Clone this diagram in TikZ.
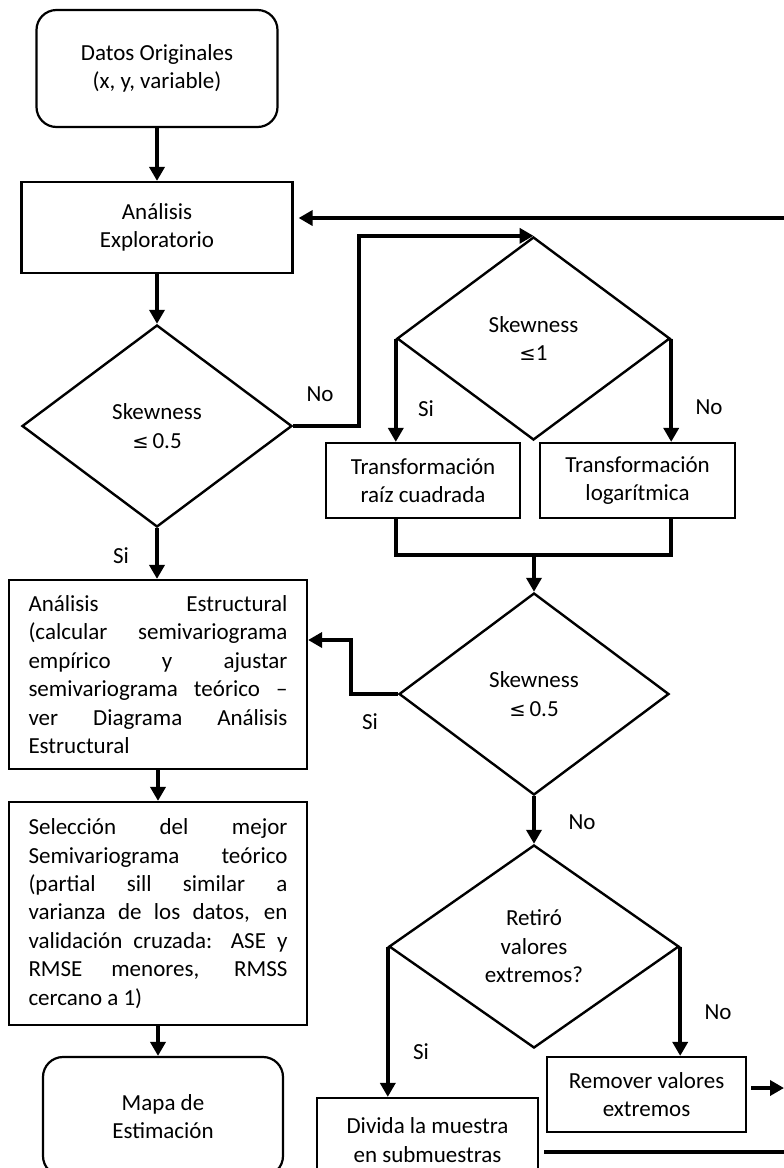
\documentclass[tikz,border=0pt]{standalone}
\usepackage{fontspec}
\setmainfont{Carlito}
\newfontfamily\symfont{DejaVu Sans}[Scale=0.85]
\usetikzlibrary{arrows.meta,shapes.geometric,calc}
\newcommand\jl[1]{\makebox[259pt][s]{#1}}
\begin{document}
\begin{tikzpicture}[x=1pt,y=-1pt,
  every node/.style={font=\fontsize{23}{28.4}\selectfont},
  box/.style={draw, line width=2.2pt, inner sep=0pt, align=center},
  rbox/.style={box, rounded corners=20pt},
  dec/.style={draw, diamond, line width=2.4pt, inner sep=0pt, align=center},
  conn/.style={line width=4.5pt},
  arr/.style={conn, -{Triangle[length=14pt,width=15pt]}},
  lab/.style={inner sep=0pt}]
\useasboundingbox (0,0) rectangle (784,1168);
\fill[white] (0,0) rectangle (784,1168);
\clip (0,0) rectangle (784,1168);

% nodes
\node[rbox, minimum width=241pt, minimum height=117pt] (datos) at (157,68.5) {Datos Originales\\(x, y, variable)};
\node[box, minimum width=271pt, minimum height=91pt] (explo) at (157,227.5) {Análisis\\Exploratorio};
\node[dec, minimum width=270pt, minimum height=202pt] (d1) at (157,426) {Skewness\\{\symfont ≤}\,0.5};
\node[dec, minimum width=273pt, minimum height=203pt] (d2) at (533.5,338.5) {Skewness\\{\symfont ≤}1};
\node[box, minimum width=194pt, minimum height=75pt] (raiz) at (423,480.5) {Transformación\\raíz cuadrada};
\node[box, minimum width=195pt, minimum height=75pt] (log) at (637.5,480.5) {Transformación\\logarítmica};
\node[dec, minimum width=270pt, minimum height=202pt] (d3) at (534,694) {Skewness\\{\symfont ≤}\,0.5};
\node[box, align=left, minimum width=298pt, minimum height=189pt] (estr) at (158,674.5) {%
\jl{Análisis Estructural}\\
\jl{(calcular semivariograma}\\
\jl{empírico y ajustar}\\
\jl{semivariograma teórico –}\\
\jl{ver Diagrama Análisis}\\
Estructural};
\node[box, align=left, minimum width=298pt, minimum height=223pt] (sel) at (158,913.5) {%
\jl{Selección del mejor}\\
\jl{Semivariograma teórico}\\
\jl{(partial sill similar a}\\
\jl{varianza de los datos, en}\\
\jl{validación cruzada: ASE y}\\
\jl{RMSE menores, RMSS}\\
cercano a 1)};
\node[rbox, minimum width=240pt, minimum height=119pt] (mapa) at (163,1116.5) {Mapa de\\Estimación};
\node[dec, minimum width=290pt, minimum height=203pt] (d4) at (534,946.5) {Retiró\\valores\\extremos?};
\node[box, minimum width=199pt, minimum height=75pt] (rem) at (646.5,1094.5) {Remover valores\\extremos};
\node[box, minimum width=221pt, minimum height=84pt] (div) at (427.5,1140) {Divida la muestra\\en submuestras};

% labels
\node[lab] (l1) at (320,394) {No};
\node[lab] (l2) at (426,409) {Si};
\node[lab] (l3) at (709,407) {No};
\node[lab] (l4) at (121,556) {Si};
\node[lab] (l5) at (370,722) {Si};
\node[lab] (l6) at (582,822) {No};
\node[lab] (l7) at (718,1012) {No};
\node[lab] (l8) at (421,1052) {Si};

% connectors
\coordinate (m) at (534,555);
\coordinate (p1) at (0,640);
\coordinate (e1) at (784,1088);
\coordinate (e2) at (790,1152);
\coordinate (e3) at (790,218);

\draw[arr] (datos.south) -- (explo.north);
\draw[arr] (explo.south) -- (d1.north);
\draw[arr] (d1.east) -- ++(66,0) |- (d2.north);
\draw[arr] (d2.west) -- (d2.west |- raiz.north);
\draw[arr] (d2.east) -- (d2.east |- log.north);
\draw[conn] (raiz.south -| d2.west) |- (m) -| (log.south -| d2.east);
\draw[arr] (m) -- (d3.north);
\draw[arr] (d3.west) -- ++(-47,0) |- (estr.east |- p1);
\draw[arr] (d1.south) -- (d1.south |- estr.north);
\draw[arr] (estr.south) -- (sel.north);
\draw[arr] (sel.south) -- (sel.south |- mapa.north);
\draw[arr] (d3.south) -- (d4.north);
\draw[arr] (d4.west) -- (d4.west |- div.north);
\draw[arr] (d4.east) -- (d4.east |- rem.north);
\draw[arr, shorten <=4pt] (rem.east |- e1) -- (e1);
\draw[conn, shorten <=5pt] (div.east |- e2) -- (e2);
\draw[arr, shorten >=5pt] (e3) -- (explo.east |- e3);
\end{tikzpicture}
\end{document}
